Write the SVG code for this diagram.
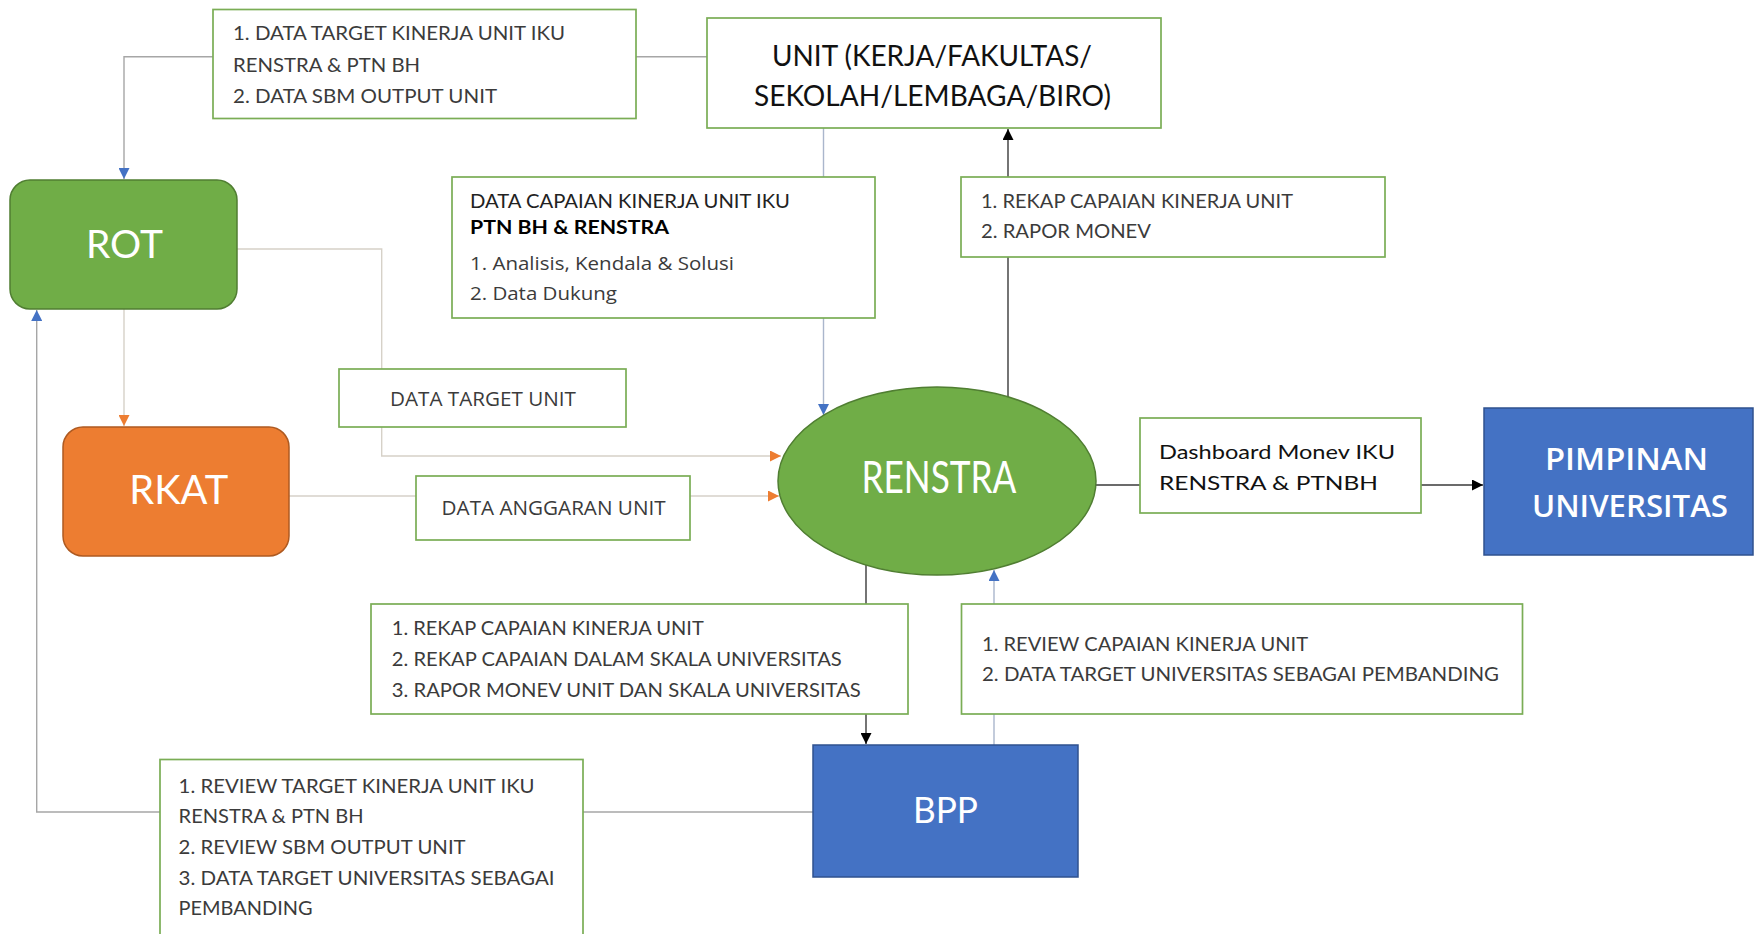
<svg xmlns="http://www.w3.org/2000/svg" width="1754" height="934" viewBox="0 0 1754 934">
<defs>
<style>
.box{fill:#ffffff;stroke:#7aad55;stroke-width:1.7}
.t{font-family:Lato,"Liberation Sans",sans-serif;font-size:19.5px;fill:#3b3b3b}
.o{font-family:"Open Sans","Liberation Sans",sans-serif;font-size:19px;fill:#3b3b3b}
.big{font-family:Lato,"Liberation Sans",sans-serif;fill:#ffffff}
.ln{fill:none;stroke-width:1.4}
.gray{stroke:#a6a6a6}
.light{stroke:#d6d1c8}
.bl{stroke:#aab6cc}
.dk{stroke:#3a3a3a}
</style>
<marker id="aBlue" viewBox="0 0 10 10" refX="10" refY="5" markerWidth="11" markerHeight="11" markerUnits="userSpaceOnUse" orient="auto"><path d="M0,0 L10,5 L0,10 z" fill="#4472c4"/></marker>
<marker id="aOrange" viewBox="0 0 10 10" refX="10" refY="5" markerWidth="11" markerHeight="11" markerUnits="userSpaceOnUse" orient="auto"><path d="M0,0 L10,5 L0,10 z" fill="#ed7d31"/></marker>
<marker id="aBlack" viewBox="0 0 10 10" refX="10" refY="5" markerWidth="11" markerHeight="11" markerUnits="userSpaceOnUse" orient="auto"><path d="M0,0 L10,5 L0,10 z" fill="#000000"/></marker>
</defs>
<rect width="1754" height="934" fill="#ffffff"/>

<g id="connectors">
<polyline class="ln gray" points="707,56.7 124,56.7 124,179" marker-end="url(#aBlue)"/>
<polyline class="ln light" points="237,249 381.7,249 381.7,456 781,456" marker-end="url(#aOrange)"/>
<polyline class="ln light" points="124,309 124,426" marker-end="url(#aOrange)"/>
<polyline class="ln light" points="289,496 779,496" marker-end="url(#aOrange)"/>
<polyline class="ln bl" points="823.5,128 823.5,415" marker-end="url(#aBlue)"/>
<polyline class="ln dk" points="1008,397 1008,129" marker-end="url(#aBlack)"/>
<polyline class="ln dk" points="1096,485 1483,485" marker-end="url(#aBlack)"/>
<polyline class="ln dk" points="866,565 866,744" marker-end="url(#aBlack)"/>
<polyline class="ln bl" points="994,745 994,570" marker-end="url(#aBlue)"/>
<polyline class="ln gray" points="813,812 36.7,812 36.7,310" marker-end="url(#aBlue)"/>
</g>

<g id="box-data-target-kinerja">
<rect class="box" x="213" y="9.5" width="423" height="109"/>
<text class="t" x="233" y="40" textLength="332" lengthAdjust="spacingAndGlyphs">1. DATA TARGET KINERJA UNIT IKU</text>
<text class="t" x="233" y="72" textLength="187" lengthAdjust="spacingAndGlyphs">RENSTRA &amp; PTN BH</text>
<text class="t" x="233" y="103" textLength="264" lengthAdjust="spacingAndGlyphs">2. DATA SBM OUTPUT UNIT</text>
</g>

<g id="unit">
<rect class="box" x="707" y="18" width="454" height="110"/>
<text class="t" x="772" y="66" style="font-size:28.5px;fill:#111" textLength="320" lengthAdjust="spacingAndGlyphs">UNIT (KERJA/FAKULTAS/</text>
<text class="t" x="754" y="106" style="font-size:28.5px;fill:#111" textLength="357" lengthAdjust="spacingAndGlyphs">SEKOLAH/LEMBAGA/BIRO)</text>
</g>

<g id="rot">
<rect x="10" y="180" width="227" height="129" rx="20" fill="#70ad47" stroke="#507e32" stroke-width="1.5"/>
<text class="big" x="86" y="258" style="font-size:39px" textLength="77" lengthAdjust="spacingAndGlyphs">ROT</text>
</g>

<g id="box-data-capaian">
<rect class="box" x="452" y="177" width="423" height="141"/>
<text class="t" x="470" y="208" style="font-size:18.5px;fill:#222" textLength="320" lengthAdjust="spacingAndGlyphs">DATA CAPAIAN KINERJA UNIT IKU</text>
<text class="t" x="470" y="234" style="font-size:19.5px;font-weight:bold;fill:#000" textLength="199" lengthAdjust="spacingAndGlyphs">PTN BH &amp; RENSTRA</text>
<text class="o" x="470" y="270" textLength="264" lengthAdjust="spacingAndGlyphs">1. Analisis, Kendala &amp; Solusi</text>
<text class="o" x="470" y="300" textLength="147" lengthAdjust="spacingAndGlyphs">2. Data Dukung</text>
</g>

<g id="box-rekap-top">
<rect class="box" x="961" y="177" width="424" height="80"/>
<text class="t" x="981" y="208" textLength="312" lengthAdjust="spacingAndGlyphs">1. REKAP CAPAIAN KINERJA UNIT</text>
<text class="t" x="981" y="238" textLength="170" lengthAdjust="spacingAndGlyphs">2. RAPOR MONEV</text>
</g>

<g id="box-data-target-unit">
<rect class="box" x="339" y="369" width="287" height="58"/>
<text class="o" x="390" y="405.7" style="font-size:19.5px" textLength="186" lengthAdjust="spacingAndGlyphs">DATA TARGET UNIT</text>
</g>

<g id="rkat">
<rect x="63" y="427" width="226" height="129" rx="20" fill="#ed7d31" stroke="#ae5a21" stroke-width="1.5"/>
<text class="big" x="129.3" y="504" style="font-size:40px" textLength="99" lengthAdjust="spacingAndGlyphs">RKAT</text>
</g>

<g id="box-data-anggaran">
<rect class="box" x="416" y="476" width="274" height="64"/>
<text class="o" x="441.6" y="515" style="font-size:20px" textLength="224" lengthAdjust="spacingAndGlyphs">DATA ANGGARAN UNIT</text>
</g>

<g id="renstra">
<ellipse cx="937" cy="481" rx="159" ry="94" fill="#70ad47" stroke="#507e32" stroke-width="1.5"/>
<text class="big" x="861.4" y="493" style="font-size:44px" textLength="155" lengthAdjust="spacingAndGlyphs">RENSTRA</text>
</g>

<g id="box-dashboard">
<rect class="box" x="1140" y="418" width="281" height="95"/>
<text class="t" x="1159" y="459" style="fill:#111" textLength="236" lengthAdjust="spacingAndGlyphs">Dashboard Monev IKU</text>
<text class="t" x="1159" y="490" style="fill:#111" textLength="219" lengthAdjust="spacingAndGlyphs">RENSTRA &amp; PTNBH</text>
</g>

<g id="pimpinan">
<rect x="1484" y="408" width="269" height="147" fill="#4472c4" stroke="#2f528f" stroke-width="1.5"/>
<text class="o" x="1545" y="470" style="font-size:31px;font-weight:600;fill:#fff" textLength="163" lengthAdjust="spacingAndGlyphs">PIMPINAN</text>
<text class="o" x="1532" y="517" style="font-size:31px;font-weight:600;fill:#fff" textLength="196" lengthAdjust="spacingAndGlyphs">UNIVERSITAS</text>
</g>

<g id="box-rekap-bottom">
<rect class="box" x="371" y="604" width="537" height="110"/>
<text class="t" x="391.8" y="635" textLength="312" lengthAdjust="spacingAndGlyphs">1. REKAP CAPAIAN KINERJA UNIT</text>
<text class="t" x="391.8" y="666" textLength="450" lengthAdjust="spacingAndGlyphs">2. REKAP CAPAIAN DALAM SKALA UNIVERSITAS</text>
<text class="t" x="391.8" y="697" textLength="469" lengthAdjust="spacingAndGlyphs">3. RAPOR MONEV UNIT DAN SKALA UNIVERSITAS</text>
</g>

<g id="box-review-capaian">
<rect class="box" x="961.5" y="604" width="561" height="110"/>
<text class="t" x="982" y="651" textLength="326" lengthAdjust="spacingAndGlyphs">1. REVIEW CAPAIAN KINERJA UNIT</text>
<text class="t" x="982" y="681" textLength="517" lengthAdjust="spacingAndGlyphs">2. DATA TARGET UNIVERSITAS SEBAGAI PEMBANDING</text>
</g>

<g id="bpp">
<rect x="813" y="745" width="265" height="132" fill="#4472c4" stroke="#2f528f" stroke-width="1.5"/>
<text class="big" x="913" y="823" style="font-size:36px" textLength="65" lengthAdjust="spacingAndGlyphs">BPP</text>
</g>

<g id="box-review-target">
<rect class="box" x="160" y="759.5" width="423" height="180"/>
<text class="t" x="178.6" y="793" textLength="356" lengthAdjust="spacingAndGlyphs">1. REVIEW TARGET KINERJA UNIT IKU</text>
<text class="t" x="178.6" y="823" textLength="185" lengthAdjust="spacingAndGlyphs">RENSTRA &amp; PTN BH</text>
<text class="t" x="178.6" y="854" textLength="287" lengthAdjust="spacingAndGlyphs">2. REVIEW SBM OUTPUT UNIT</text>
<text class="t" x="178.6" y="885" textLength="376" lengthAdjust="spacingAndGlyphs">3. DATA TARGET UNIVERSITAS SEBAGAI</text>
<text class="t" x="178.6" y="915" textLength="134" lengthAdjust="spacingAndGlyphs">PEMBANDING</text>
</g>
</svg>
